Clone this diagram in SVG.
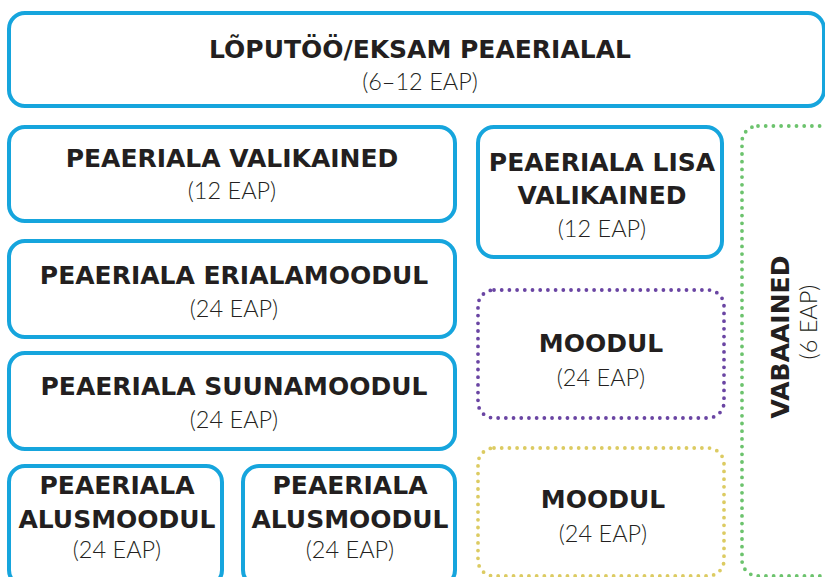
<svg xmlns="http://www.w3.org/2000/svg" width="825" height="577" viewBox="0 0 825 577">
<style>
.b{fill:none;stroke:#16a5dd;stroke-width:4}
.d{fill:none;stroke-width:3.8;stroke-linecap:round;stroke-dasharray:0 7.7}
.t{font-family:"DejaVu Sans","Liberation Sans",sans-serif;font-weight:700;font-size:25px;fill:#231f20;text-anchor:middle}
.s{font-family:Lato,"Liberation Sans",sans-serif;font-weight:300;font-size:23.5px;fill:#231f20;text-anchor:middle}
</style>
<rect width="825" height="577" fill="#fff"/>
<g id="lopu">
<rect class="b" x="9" y="13" width="815" height="93" rx="16"/>
<text class="t" x="420" y="58">LÕPUTÖÖ/EKSAM PEAERIALAL</text>
<text class="s" x="420" y="90">(6–12 EAP)</text>
</g>
<g id="valikained">
<rect class="b" x="9" y="127" width="446" height="94" rx="16"/>
<text class="t" x="232" y="167">PEAERIALA VALIKAINED</text>
<text class="s" x="232" y="199">(12 EAP)</text>
</g>
<g id="erialamoodul">
<rect class="b" x="9" y="241" width="446" height="96" rx="16"/>
<text class="t" x="234" y="284">PEAERIALA ERIALAMOODUL</text>
<text class="s" x="234" y="317">(24 EAP)</text>
</g>
<g id="suunamoodul">
<rect class="b" x="9" y="353" width="446" height="96" rx="16"/>
<text class="t" x="234" y="395">PEAERIALA SUUNAMOODUL</text>
<text class="s" x="234" y="428">(24 EAP)</text>
</g>
<g id="alus1">
<rect class="b" x="9" y="466" width="213" height="120" rx="16"/>
<text class="t" x="117" y="494">PEAERIALA</text>
<text class="t" x="117" y="528">ALUSMOODUL</text>
<text class="s" x="117" y="558">(24 EAP)</text>
</g>
<g id="alus2">
<rect class="b" x="243" y="466" width="212" height="120" rx="16"/>
<text class="t" x="350" y="494">PEAERIALA</text>
<text class="t" x="350" y="528">ALUSMOODUL</text>
<text class="s" x="350" y="558">(24 EAP)</text>
</g>
<g id="lisa">
<rect class="b" x="478" y="127" width="244" height="130" rx="16"/>
<text class="t" x="602" y="171">PEAERIALA LISA</text>
<text class="t" x="602" y="204">VALIKAINED</text>
<text class="s" x="602" y="237">(12 EAP)</text>
</g>
<g id="moodul1">
<rect class="d" x="478" y="290" width="246" height="128" rx="16" stroke="#6a45a3"/>
<text class="t" x="601" y="352">MOODUL</text>
<text class="s" x="601" y="386">(24 EAP)</text>
</g>
<g id="moodul2">
<rect class="d" x="478" y="448" width="246" height="128" rx="16" stroke="#dccb62"/>
<text class="t" x="603" y="508">MOODUL</text>
<text class="s" x="603" y="542">(24 EAP)</text>
</g>
<g id="vabaained">
<rect class="d" x="742" y="126" width="110" height="450" rx="16" stroke="#6cc36d"/>
<text class="t" transform="translate(789 337) rotate(-90)">VABAAINED</text>
<text class="s" transform="translate(817 322) rotate(-90)">(6 EAP)</text>
</g>
<g id="connectors"></g>
</svg>
